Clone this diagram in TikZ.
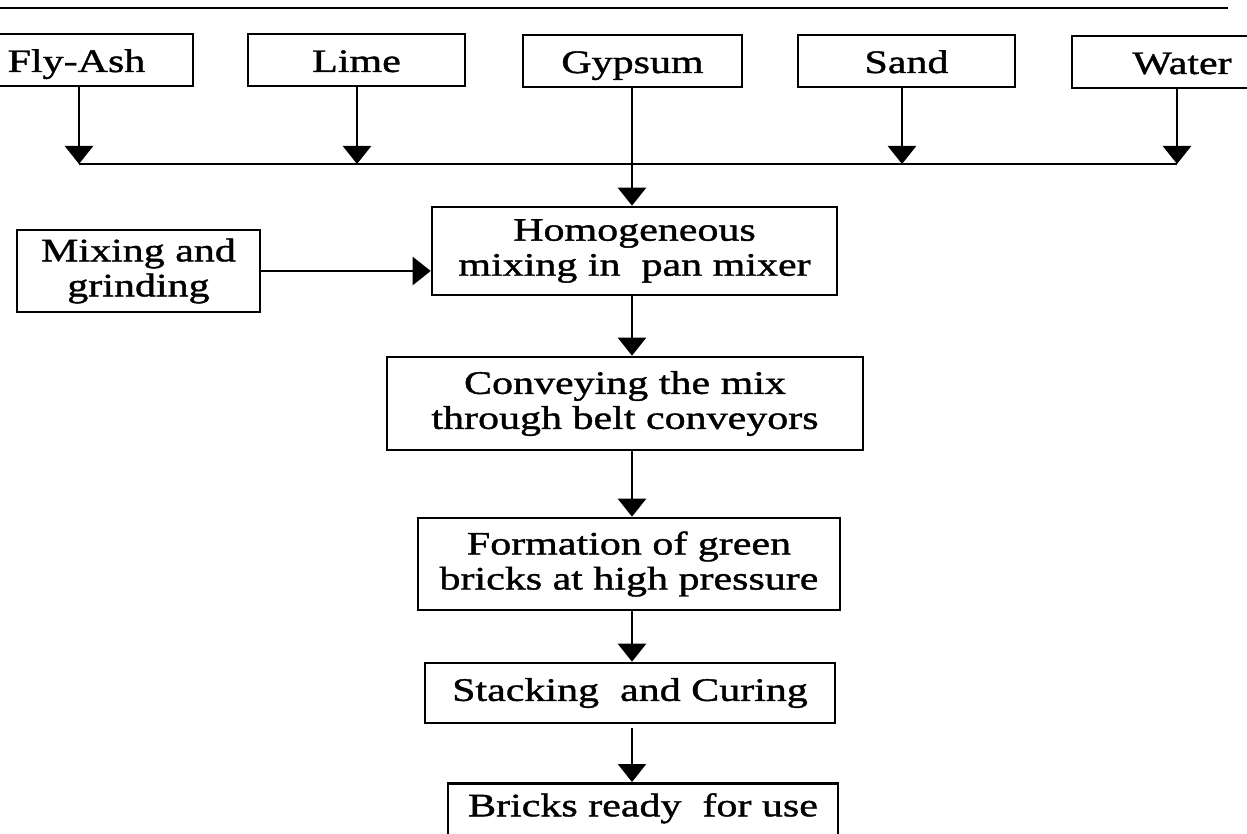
\documentclass[tikz,border=0pt]{standalone}
\usepackage{fontspec}
\setmainfont{Liberation Serif}[FakeStretch=1.28, FakeBold=1.2]
\usetikzlibrary{arrows.meta}
\begin{document}
\begin{tikzpicture}[x=0.5pt,y=-0.5pt,
  box/.style={draw, line width=1.3pt, inner sep=0pt, align=center, font=\fontsize{16.4}{17.5}\selectfont},
  topbox/.style={box, minimum height=26pt, text height=13.5pt, text depth=1.5pt},
  arr/.style={line width=1.3pt, -{Triangle[width=14pt,length=9pt]}},
  ln/.style={line width=1.3pt}]
\useasboundingbox (0,0) rectangle (1247,834);
\fill[white] (0,0) rectangle (1247,834);
% header rule
\coordinate (rl) at (0,8);
\coordinate (rr) at (1228,8);
\draw[ln] (rl) -- (rr);
% raw materials
\node[topbox, minimum width=116.5pt] (flyash) at (76.5,60) {Fly-Ash};
\node[topbox, minimum width=108.5pt] (lime) at (356.5,60) {Lime};
\node[topbox, minimum width=109.5pt] (gypsum) at (632.5,61) {Gypsum};
\node[topbox, minimum width=108.5pt] (sand) at (906.5,61) {Sand};
\node[topbox, minimum width=110pt] (water) at (1182,62) {Water};
% process boxes
\node[box, minimum width=202.5pt, minimum height=44pt] (homog) at (634.5,251) {Homogeneous\\mixing in\ \ pan mixer};
\node[box, minimum width=121.5pt, minimum height=41pt] (mixing) at (138.5,271) {Mixing and\\grinding};
\node[box, minimum width=238pt, minimum height=46.5pt] (convey) at (625,403.5) {Conveying the mix\\through belt conveyors};
\node[box, minimum width=211pt, minimum height=46pt] (form) at (629,564) {Formation of green\\bricks at high pressure};
\node[box, minimum width=205pt, minimum height=30pt] (stack) at (630,693) {Stacking\ \ and Curing};
\node[box, minimum width=195pt, anchor=north, text height=16.5pt, text depth=20pt] (bricks) at (643,782) {Bricks ready\ \ for use};
% collector line
\coordinate (jf) at (79,164);
\coordinate (jl) at (357,164);
\coordinate (js) at (902,164);
\coordinate (jw) at (1177,164);
\coordinate (spine) at (632,0);
\draw[ln] (jf) -- (jw);
\draw[arr] (flyash.south -| jf) -- (jf);
\draw[arr] (lime.south -| jl) -- (jl);
\draw[arr] (sand.south -| js) -- (js);
\draw[arr] (water.south -| jw) -- (jw);
\draw[arr] (gypsum.south -| spine) -- (homog.north -| spine);
\draw[arr] (mixing.east) -- (mixing.east -| homog.west);
\draw[arr] (homog.south -| spine) -- (convey.north -| spine);
\draw[arr] (convey.south -| spine) -- (form.north -| spine);
\draw[arr] (form.south -| spine) -- (stack.north -| spine);
\draw[arr] ([yshift=-2pt]stack.south -| spine) -- (bricks.north -| spine);
\end{tikzpicture}
\end{document}
